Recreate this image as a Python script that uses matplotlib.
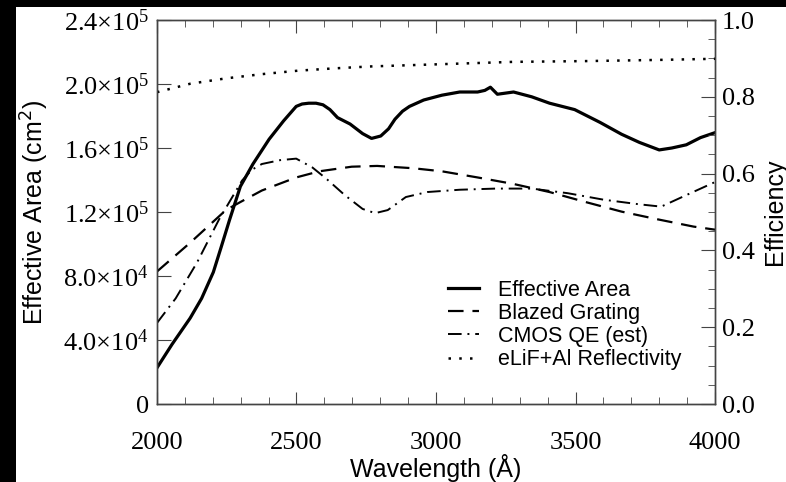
import matplotlib

matplotlib.use("Agg")
import matplotlib.pyplot as plt
from matplotlib.patches import Rectangle
from matplotlib.ticker import MultipleLocator, FixedLocator

plt.rcParams.update(matplotlib.rcParamsDefault)
plt.rcParams["mathtext.fontset"] = "custom"
plt.rcParams["mathtext.rm"] = "Liberation Serif"
plt.rcParams["mathtext.it"] = "Liberation Serif:italic"

# Effective area (cm^2) vs wavelength (A)
area_wl = [2000, 2054, 2119, 2160, 2202, 2230, 2260, 2299, 2344, 2402, 2454,
           2499, 2520, 2544, 2570, 2595, 2620, 2647, 2692, 2737, 2769, 2802,
           2830, 2853, 2880, 2905, 2956, 3021, 3085, 3149, 3175, 3195, 3220,
           3278, 3343, 3407, 3497, 3588, 3665, 3729, 3800, 3845, 3897, 3948,
           4000]
area = [22.6e3, 37.3e3, 53.7e3, 66e3, 82.4e3, 98e3, 115e3, 136e3, 150e3,
        165.5e3, 177e3, 186e3, 187.5e3, 188e3, 188e3, 187e3, 184e3, 179e3,
        175e3, 169e3, 166e3, 167.5e3, 172e3, 178e3, 183e3, 186e3, 190e3,
        193e3, 195e3, 195e3, 196e3, 198e3, 193.6e3, 195e3, 192e3, 188e3,
        184e3, 176e3, 168.6e3, 163.5e3, 158.8e3, 160e3, 162e3, 166.5e3,
        169.6e3]

# Blazed grating efficiency
grating_wl = [2000, 2119, 2247, 2299, 2376, 2499, 2582, 2698, 2789, 2918,
              3021, 3149, 3278, 3407, 3536, 3665, 3794, 3923, 4000]
grating = [0.345, 0.42, 0.505, 0.526, 0.556, 0.590, 0.606, 0.618, 0.620,
           0.614, 0.606, 0.590, 0.573, 0.552, 0.526, 0.501, 0.481, 0.462,
           0.454]

# CMOS QE (estimated)
cmos_wl = [2000, 2067, 2144, 2222, 2305, 2340, 2376, 2441, 2499, 2557, 2608,
           2673, 2737, 2782, 2827, 2892, 2969, 3085, 3214, 3343, 3472, 3601,
           3729, 3807, 3897, 4000]
cmos = [0.211, 0.275, 0.369, 0.480, 0.582, 0.610, 0.625, 0.635, 0.639,
        0.616, 0.586, 0.544, 0.508, 0.497, 0.505, 0.539, 0.552, 0.558, 0.561,
        0.561, 0.549, 0.532, 0.520, 0.514, 0.544, 0.578]

# eLiF+Al reflectivity
refl_wl = [2000, 2119, 2247, 2376, 2505, 2634, 2763, 3021, 3278, 3536, 3794,
           4000]
refl = [0.812, 0.834, 0.848, 0.859, 0.868, 0.874, 0.879, 0.885, 0.891,
        0.893, 0.896, 0.899]

left_ticks = [0, 4e4, 8e4, 1.2e5, 1.6e5, 2.0e5, 2.4e5]
left_labels = ["0", r"$\mathrm{4.0{\times}10^4}$", r"$\mathrm{8.0{\times}10^4}$",
               r"$\mathrm{1.2{\times}10^5}$", r"$\mathrm{1.6{\times}10^5}$",
               r"$\mathrm{2.0{\times}10^5}$", r"$\mathrm{2.4{\times}10^5}$"]
right_ticks = [0.0, 0.2, 0.4, 0.6, 0.8, 1.0]

frame = "#444444"
serif = "Liberation Serif"
sans = "Liberation Sans"

fig = plt.figure(figsize=(7.86, 4.82), dpi=100)
fig.patch.set_facecolor("white")
fig.patch.set_alpha(1.0)

# white page, then black borders at the top and left edge of the picture
fig.add_artist(Rectangle((0, 0), 1, 1, transform=fig.transFigure,
                         facecolor="white", edgecolor="none", zorder=-20))
fig.add_artist(Rectangle((0, 0.985), 1, 0.015, transform=fig.transFigure,
                         facecolor="black", edgecolor="none", zorder=-10))
fig.add_artist(Rectangle((0, 0), 0.0205, 1, transform=fig.transFigure,
                         facecolor="black", edgecolor="none", zorder=-10))

ax = fig.add_axes([0.1997, 0.1618, 0.71, 0.7967])
ax2 = ax.twinx()

l1, = ax.plot(area_wl, area, color="black", lw=2.3, label="Effective Area")
l2, = ax2.plot(grating_wl, grating, color="black", lw=1.6, ls=(0, (7, 4)),
               label="Blazed Grating")
l3, = ax2.plot(cmos_wl, cmos, color="black", lw=1.4,
               ls=(0, (7, 3, 1, 3)), label="CMOS QE (est)")
l4, = ax2.plot(refl_wl, refl, color="black", lw=1.8, ls=(0, (1, 3.3)),
               label="eLiF+Al Reflectivity")

ax.set_xlim(2000, 4000)
ax.set_ylim(0, 2.4e5)
ax2.set_ylim(0, 1.0)

ax.xaxis.set_major_locator(MultipleLocator(500))
ax.xaxis.set_minor_locator(MultipleLocator(100))
ax.yaxis.set_major_locator(FixedLocator(left_ticks))
ax.set_yticklabels(left_labels)
ax2.set_yticks(right_ticks)
ax2.set_yticklabels([f"{v:.1f}" for v in right_ticks])
ax2.yaxis.set_minor_locator(MultipleLocator(0.05))

ax.tick_params(axis="x", which="both", direction="in", top=True,
               color=frame, labelsize=19, pad=20)
ax.tick_params(axis="x", which="major", length=9)
ax.tick_params(axis="x", which="minor", length=5)
ax.tick_params(axis="y", which="major", direction="in", length=10,
               color=frame, labelsize=19, pad=6, right=False)
ax2.tick_params(axis="y", which="both", direction="in", color=frame,
                labelsize=19, pad=5)
ax2.tick_params(axis="y", which="major", length=10)
ax2.tick_params(axis="y", which="minor", length=5)

for lab in ax.get_xticklabels() + ax.get_yticklabels() + ax2.get_yticklabels():
    lab.set_fontfamily(serif)

for a in (ax, ax2):
    for s in a.spines.values():
        s.set_color(frame)
        s.set_linewidth(1.0)

ax.set_xlabel("Wavelength (Å)", fontsize=18, family=sans, labelpad=0)
ax.set_ylabel("Effective Area (cm$^2$)", fontsize=18, family=sans, labelpad=9)
ax2.set_ylabel("Efficiency", fontsize=18, family=sans, labelpad=6)
ax.yaxis.label.set_math_fontfamily("dejavusans")

ax2.legend(handles=[l1, l2, l3, l4], loc="lower left",
           bbox_to_anchor=(0.5064, 0.066), frameon=False,
           prop={"family": sans, "size": 15.5}, handlelength=1.45,
           handletextpad=0.85, labelspacing=0.1, borderaxespad=0)

fig.savefig("out.png", dpi=100, facecolor="white", transparent=False)
plt.close(fig)
